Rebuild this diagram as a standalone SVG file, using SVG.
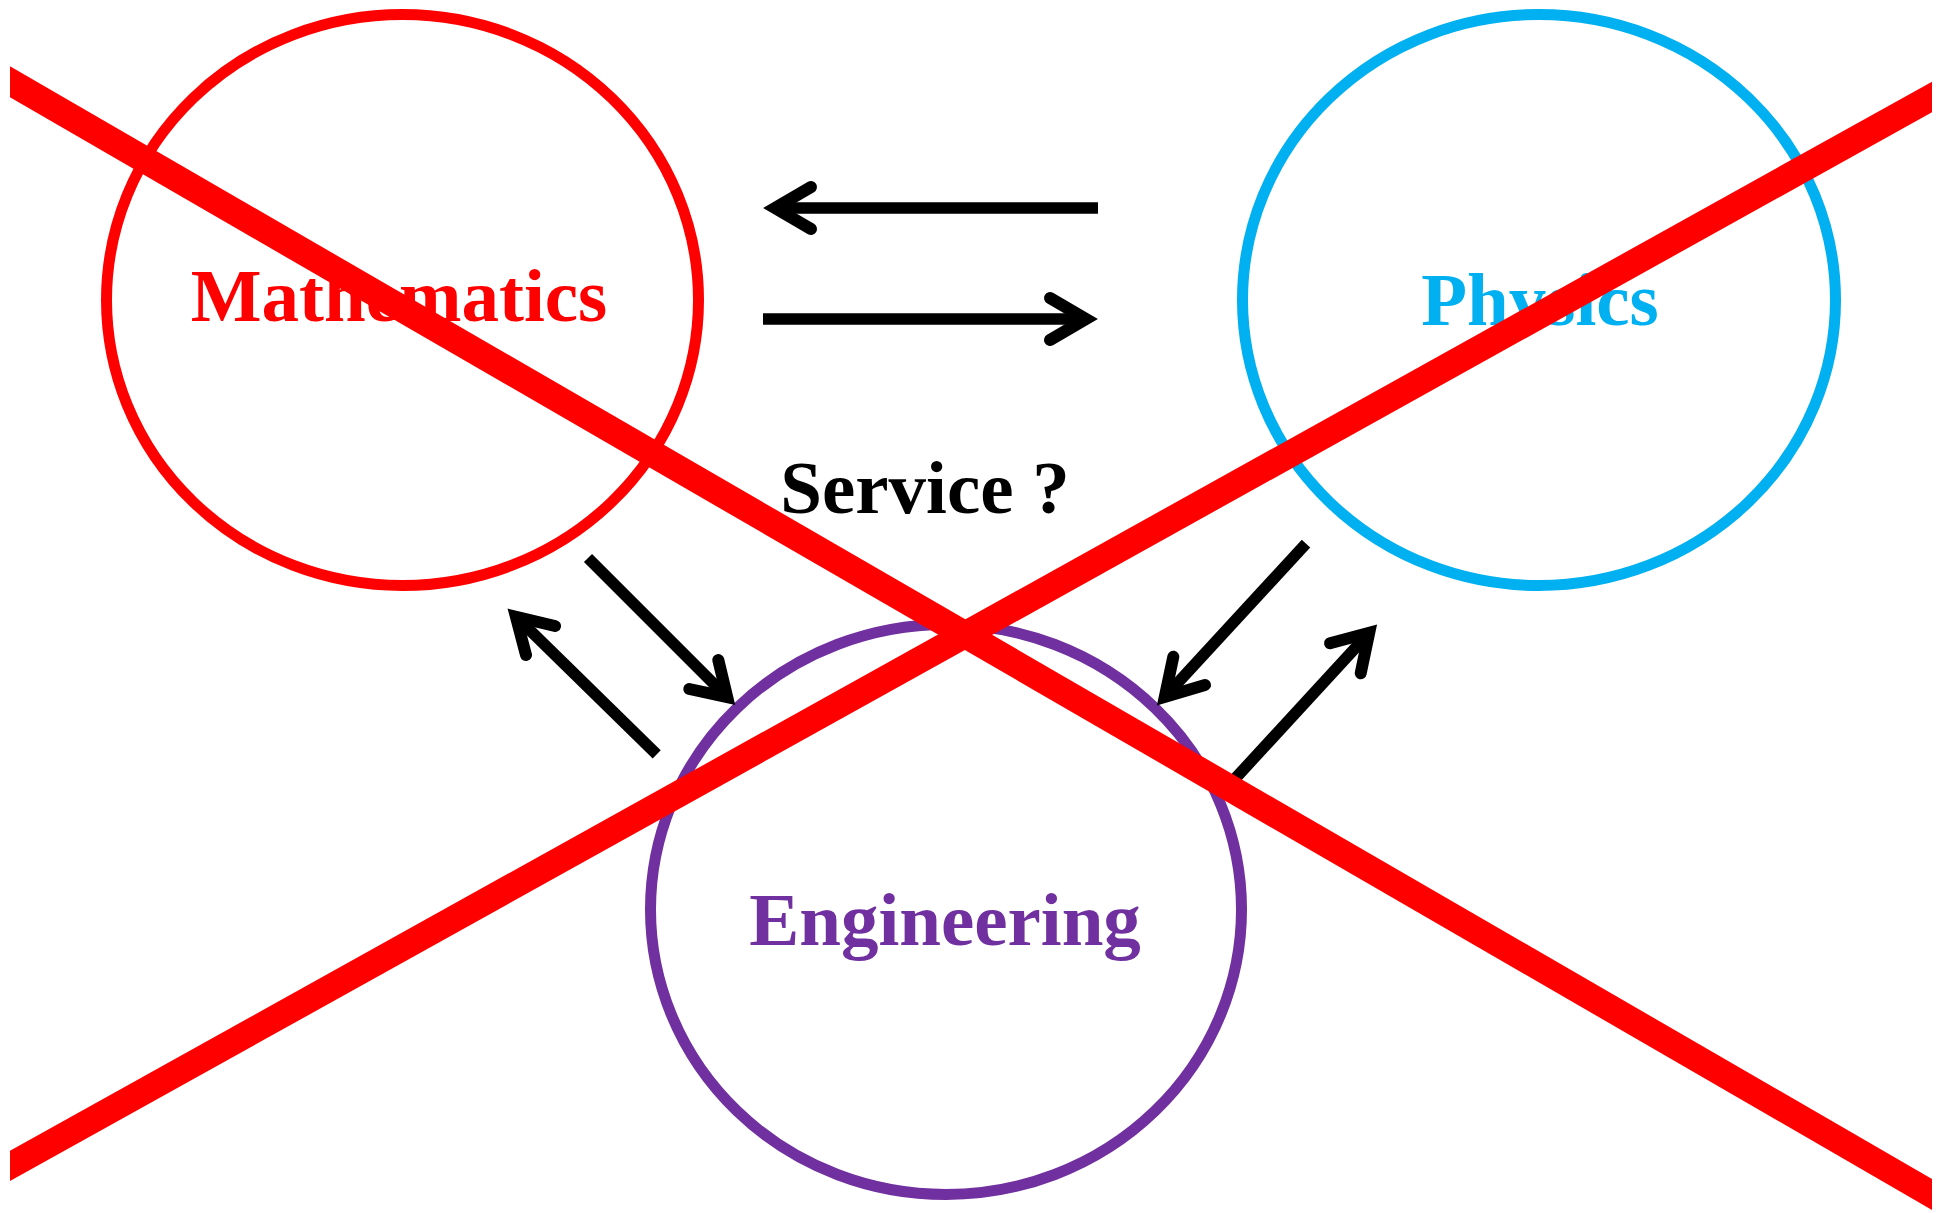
<svg xmlns="http://www.w3.org/2000/svg" width="1955" height="1213" viewBox="0 0 1955 1213">
  <style>
    .ring { fill: none; stroke-width: 11; }
    .label { font-family: "Liberation Serif", "Times New Roman", serif; font-weight: bold; font-size: 75px; text-anchor: middle; }
    .shaft { fill: none; stroke: #000; stroke-width: 11.5; stroke-linecap: butt; }
    .head { fill: none; stroke: #000; stroke-width: 12; stroke-linecap: round; stroke-linejoin: miter; stroke-miterlimit: 10; }
    .strike { fill: #FF0000; stroke: none; }
  </style>

  <rect x="0" y="0" width="1955" height="1213" fill="#FFFFFF"/>

  <!-- Discipline circles -->
  <g id="mathematics">
    <ellipse class="ring" cx="402.5" cy="300" rx="296" ry="285.5" stroke="#FF0000"/>
    <text class="label" x="399" y="321" fill="#FF0000">Mathematics</text>
  </g>
  <g id="physics">
    <ellipse class="ring" cx="1539" cy="300" rx="296.5" ry="285.5" stroke="#00B0F0"/>
    <text class="label" x="1540" y="324.5" fill="#00B0F0">Physics</text>
  </g>
  <g id="engineering">
    <ellipse class="ring" cx="946" cy="909.5" rx="295.5" ry="285" stroke="#7030A0"/>
    <text class="label" x="945" y="945" fill="#7030A0">Engineering</text>
  </g>

  <!-- Central question -->
  <g id="service">
    <text class="label" x="925" y="513" fill="#000000">Service ?</text>
  </g>

  <!-- Open arrows between the disciplines -->
  <g id="connectors">
    <!-- physics to mathematics -->
    <line class="shaft" x1="1098" y1="208" x2="776" y2="208"/>
    <path class="head" d="M811 187 L775 208 L811 229"/>
    <!-- mathematics to physics -->
    <line class="shaft" x1="763" y1="319" x2="1086" y2="319"/>
    <path class="head" d="M1050 298 L1086 319 L1050 340"/>
    <!-- mathematics to engineering -->
    <line class="shaft" x1="588" y1="558" x2="727" y2="697"/>
    <path class="head" d="M718.3 660 L727.2 697.2 L689.3 689"/>
    <!-- engineering to mathematics -->
    <line class="shaft" x1="656.7" y1="754.3" x2="516" y2="616.7"/>
    <path class="head" d="M555 626 L515.9 616.7 L526 655"/>
    <!-- physics to engineering -->
    <line class="shaft" x1="1306" y1="543.7" x2="1164.8" y2="696.9"/>
    <path class="head" d="M1173.3 656.7 L1164.8 696.9 L1205 685"/>
    <!-- engineering to physics -->
    <line class="shaft" x1="1232" y1="782" x2="1369.2" y2="632.8"/>
    <path class="head" d="M1330 643.3 L1369.2 632.8 L1360.7 673.3"/>
  </g>

  <!-- Red cross struck over everything -->
  <g id="cross-out">
    <polygon class="strike" points="10,66.3 1932,1179 1932,1210 10,97.3"/>
    <polygon class="strike" points="10,1150.7 1932,81.7 1932,112.3 10,1181"/>
  </g>
</svg>
